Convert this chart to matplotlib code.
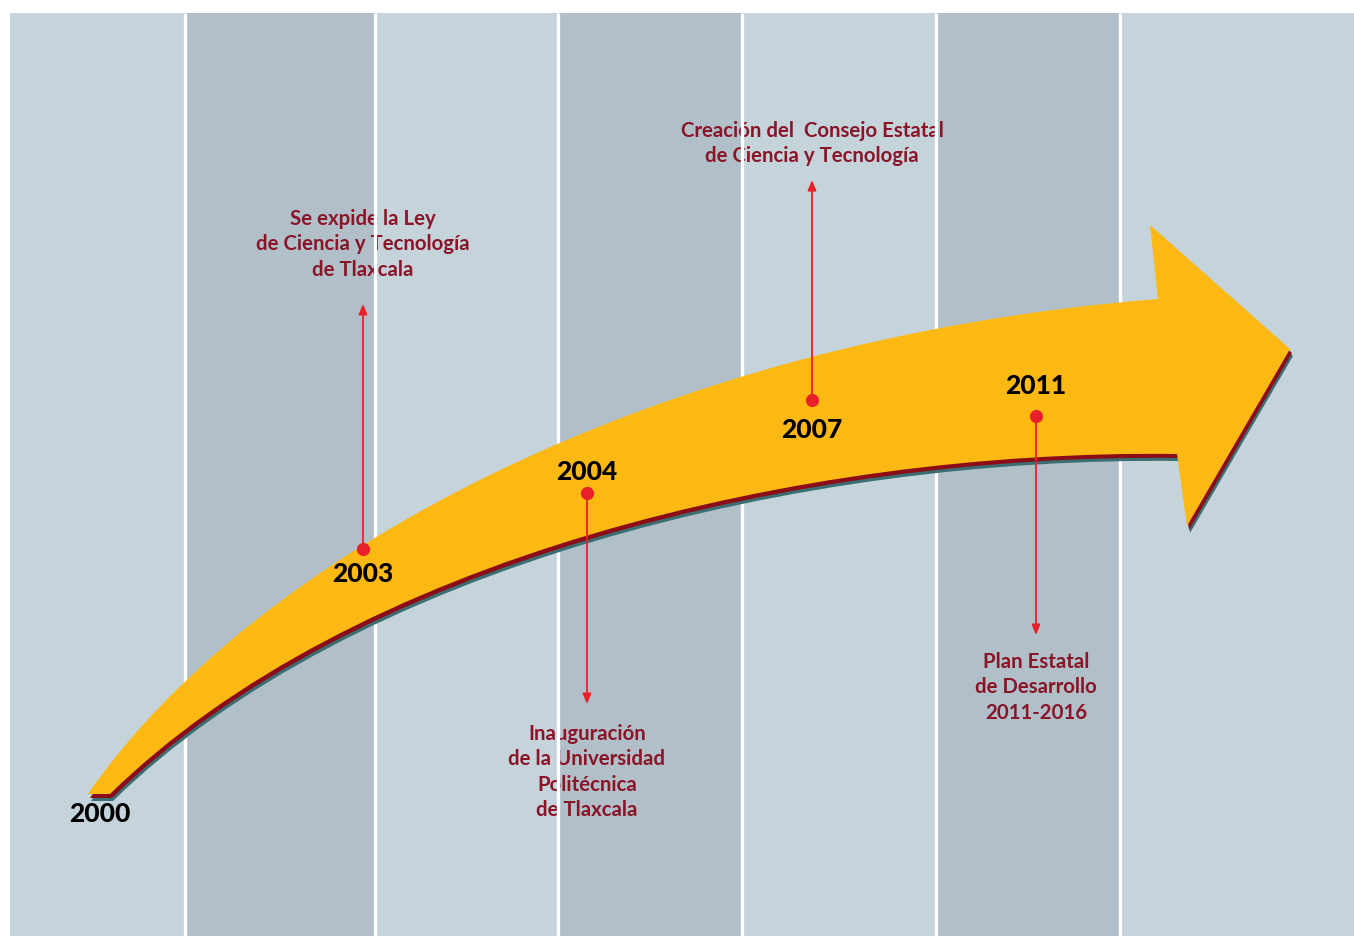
import matplotlib
matplotlib.use('Agg')
import matplotlib.pyplot as plt
from matplotlib.path import Path
from matplotlib.patches import PathPatch

# data
years = ['2003', '2004', '2007', '2011']
events = ['Se expide la Ley\nde Ciencia y Tecnología\nde Tlaxcala',
          'Inauguración\nde la Universidad\nPolitécnica\nde Tlaxcala',
          'Creación del  Consejo Estatal\nde Ciencia y Tecnología',
          'Plan Estatal\nde Desarrollo\n2011-2016']
start_year = '2000'

# layout (pixel coords, y down)
W, H = 1354, 937
stripe_edges = [10, 185, 375, 558, 742, 936, 1120, W]
light, dark = '#c5d3db', '#b1bfc8'
ev_x = [363, 587, 812, 1036]
dot_y = [550, 494, 401, 417]
tip_y = [305, 705, 181, 636]
year_y = [574, 472, 430, 386]
text_y = [209, 724, 121, 652]

fig = plt.figure(figsize=(W / 100, H / 100), dpi=100)
ax = fig.add_axes([0, 0, 1, 1])
ax.set_xlim(0, W)
ax.set_ylim(H, 0)
ax.axis('off')

for i in range(len(stripe_edges) - 1):
    ax.axvspan(stripe_edges[i], stripe_edges[i + 1], ymin=0, ymax=1 - 14 / H,
               color=light if i % 2 == 0 else dark, lw=0, zorder=0)
ax.vlines(stripe_edges[1:-1], 14, H, color='white', lw=2.4, zorder=2)

# curved arrow
verts = [(88, 795), (250, 560), (650, 340), (1158, 300),
         (1150, 226), (1290, 350), (1187, 527), (1177, 455),
         (800, 450), (350, 560), (110, 795), (88, 795)]
codes = [Path.MOVETO, Path.CURVE4, Path.CURVE4, Path.CURVE4,
         Path.LINETO, Path.LINETO, Path.LINETO, Path.LINETO,
         Path.CURVE4, Path.CURVE4, Path.CURVE4, Path.CLOSEPOLY]
for (dx, dy), col, z in [((3, 7), '#3b6e72', 3), ((2, 4), '#8b0d18', 3.5), ((0, 0), '#fdb913', 4)]:
    v = [(x + dx, y + dy) for x, y in verts]
    ax.add_patch(PathPatch(Path(v, codes), facecolor=col, edgecolor='none', zorder=z))

red = '#e8202a'
txt_col = '#8a1428'
for i, yr in enumerate(years):
    x = ev_x[i]
    ax.annotate('', xy=(x, tip_y[i]), xytext=(x, dot_y[i]),
                arrowprops=dict(arrowstyle='-|>,head_length=0.6,head_width=0.25',
                                color=red, lw=1.3, shrinkA=0, shrinkB=0), zorder=5)
    ax.plot(x, dot_y[i], 'o', color=red, ms=8.5, zorder=6)
    ax.text(x, year_y[i], yr, ha='center', va='center', fontsize=19,
            fontweight='black', family='Lato', color='black', zorder=7)
    ax.text(x, text_y[i], events[i], ha='center', va='top', fontsize=14.7,
            fontweight='bold', family='Lato', color=txt_col, linespacing=1.34,
            zorder=1)

ax.text(100, 814, start_year, ha='center', va='center', fontsize=19,
        fontweight='black', family='Lato', color='black', zorder=7)

fig.savefig('out.png', dpi=100, facecolor='white')
